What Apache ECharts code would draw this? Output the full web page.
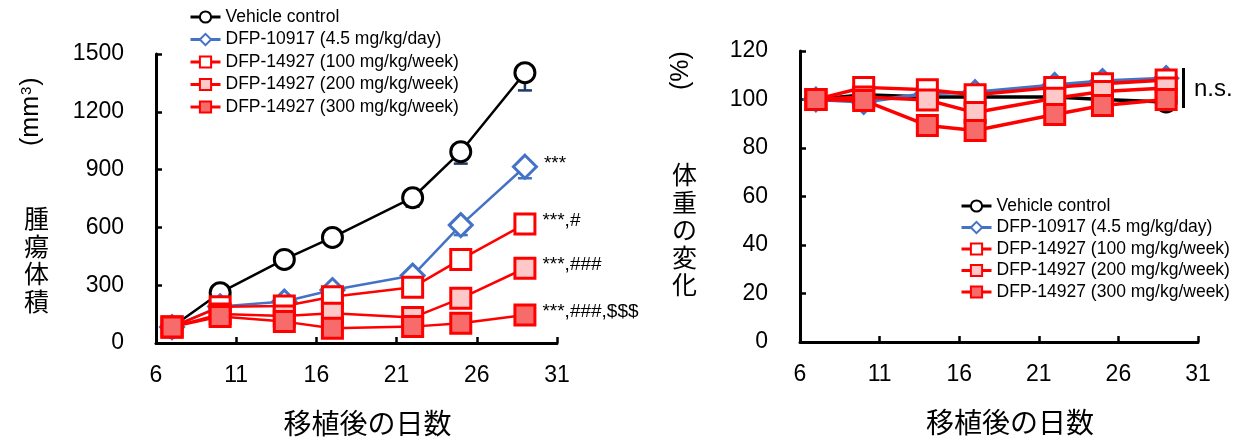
<!DOCTYPE html>
<html>
<head>
<meta charset="utf-8">
<script src="https://cdn.jsdelivr.net/npm/echarts@6/dist/echarts.min.js"></script>
<style>
  html, body { margin: 0; padding: 0; background: #fff; }
  #main { width: 1250px; height: 442px; }
</style>
</head>
<body>
<div id="main"></div>
<script>
// days after transplant
var days = [7, 10, 14, 17, 22, 25, 29];
var seriesNames = [
  'Vehicle control',
  'DFP-10917 (4.5 mg/kg/day)',
  'DFP-14927 (100 mg/kg/week)',
  'DFP-14927 (200 mg/kg/week)',
  'DFP-14927 (300 mg/kg/week)'
];

// tumor volume (mm3)
var tumorVehicle = [83, 261, 434, 548, 754, 993, 1403];
var tumorDfp10917 = [83, 190, 215, 275, 350, 612, 915];
var tumor100 = [83, 188, 192, 240, 289, 434, 617];
var tumor200 = [83, 150, 140, 154, 132, 232, 388];
var tumor300 = [83, 137, 111, 76, 85, 102, 145];
// lower error bars
var errVehicle = [8, 20, 30, 35, 47, 62, 92];
var errDfp10917 = [8, 15, 20, 25, 30, 52, 60];
// significance marks at the last point
var tumorMarks = ['', '***', '***,#', '***,###', '***,###,$$$'];

// body weight change (%)
var weightVehicle = [100, 102, 101, 101, 101, 100, 99];
var weightDfp10917 = [100, 99, 102.5, 103, 106, 107.6, 108.8];
var weight100 = [100, 105, 104, 102, 105, 106.5, 108];
var weight200 = [100, 101, 99.8, 94.6, 100.5, 103.3, 104.7];
var weight300 = [100, 99.6, 89.3, 87.2, 93.8, 97.5, 100];

var xTicks = { min: 6, max: 31, interval: 5 };

var styles = [
  { symbol: 'circle', line: '#000000', border: '#000000', fill: '#ffffff' },
  { symbol: 'diamond', line: '#4472C4', border: '#4472C4', fill: '#ffffff' },
  { symbol: 'rect', line: '#FF0000', border: '#FF0000', fill: '#ffffff' },
  { symbol: 'rect', line: '#FF0000', border: '#FF0000', fill: '#FFC8C8' },
  { symbol: 'rect', line: '#FF0000', border: '#FF0000', fill: '#F76B6B' }
];

var chart = echarts.init(document.getElementById('main'));

var FONT = '"Liberation Sans", Arial, sans-serif';
var JP = '"Noto Sans CJK JP", sans-serif';

function pairs(vals, marks) {
  return vals.map(function (v, i) {
    var item = { value: [days[i], v] };
    if (marks && i === vals.length - 1) {
      item.label = {
        show: true, formatter: marks, position: 'right', distance: 6,
        offset: [0, -3],
        color: '#000', fontSize: 19, fontFamily: FONT
      };
    }
    return item;
  });
}

function lineSeries(idx, vals, gridIdx, big, mark) {
  var s = styles[idx];
  var size = s.symbol === 'diamond' ? 23 : 20;
  return {
    name: seriesNames[idx],
    type: 'line',
    xAxisIndex: gridIdx,
    yAxisIndex: gridIdx,
    symbol: s.symbol,
    symbolSize: size,
    showAllSymbol: true,
    z: 3 + idx,
    lineStyle: { color: s.line, width: big ? 2.5 : 3.5 },
    itemStyle: { color: s.fill, borderColor: s.border, borderWidth: 3, opacity: 1 },
    label: { show: false },
    emphasis: { disabled: true },
    data: pairs(vals, mark)
  };
}

function errSeries(vals, errs, color) {
  return {
    type: 'custom',
    xAxisIndex: 0,
    yAxisIndex: 0,
    z: 2,
    silent: true,
    data: vals.map(function (v, i) { return [days[i], v, v - errs[i]]; }),
    renderItem: function (params, api) {
      var top = api.coord([api.value(0), api.value(1)]);
      var bot = api.coord([api.value(0), api.value(2)]);
      var st = { stroke: color, lineWidth: 2.5 };
      return {
        type: 'group',
        children: [
          { type: 'line', shape: { x1: top[0], y1: top[1], x2: bot[0], y2: bot[1] }, style: st },
          { type: 'line', shape: { x1: bot[0] - 7, y1: bot[1], x2: bot[0] + 7, y2: bot[1] }, style: st }
        ]
      };
    }
  };
}

function xAxisFor(gridIdx) {
  return {
    type: 'value', gridIndex: gridIdx,
    min: xTicks.min, max: xTicks.max, interval: xTicks.interval,
    name: '移植後の日数', nameLocation: 'middle', nameGap: 66,
    nameTextStyle: { fontFamily: JP, fontSize: 28, color: '#000', padding: [0, 0, 0, 22] },
    axisLine: { lineStyle: { color: '#000', width: 3 } },
    axisTick: { inside: true, length: 6, lineStyle: { color: '#000', width: 2.5 } },
    axisLabel: { color: '#000', fontSize: 23, fontFamily: FONT, margin: 21 },
    splitLine: { show: false }
  };
}

function yAxisFor(gridIdx, max, interval) {
  return {
    type: 'value', gridIndex: gridIdx,
    min: 0, max: max, interval: interval,
    axisLine: { show: true, lineStyle: { color: '#000', width: 3 } },
    axisTick: { show: true, inside: true, length: 6, lineStyle: { color: '#000', width: 2.5 } },
    axisLabel: {
      color: '#000', fontSize: 23, fontFamily: FONT, margin: 32,
      formatter: function (v) { return String(v); }
    },
    splitLine: { show: false }
  };
}

var legendBase = {
  orient: 'vertical',
  data: seriesNames,
  itemWidth: 30,
  itemHeight: 14,
  selectedMode: false,
  itemStyle: { borderWidth: 2 },
  lineStyle: { width: 3 }
};

var option = {
  backgroundColor: '#ffffff',
  animation: false,
  grid: [
    { left: 156, right: 693, top: 54, bottom: 99 },
    { left: 800, right: 52, top: 51, bottom: 100 }
  ],
  xAxis: [xAxisFor(0), xAxisFor(1)],
  yAxis: [yAxisFor(0, 1500, 300), yAxisFor(1, 120, 20)],
  legend: [
    Object.assign({}, legendBase, {
      left: 184, top: 3, itemGap: 4.5,
      textStyle: { color: '#000', fontFamily: FONT, fontSize: 17.5 }
    }),
    Object.assign({}, legendBase, {
      left: 955, top: 192, itemGap: 3.5, itemWidth: 30,
      textStyle: { color: '#000', fontFamily: FONT, fontSize: 17.5 }
    })
  ],
  graphic: [
    { type: 'text', rotation: Math.PI / 2, x: 19, y: 146,
      style: {
        text: '(mm{s|3})', font: '25px ' + FONT, fill: '#000',
        rich: { s: { fontSize: 15, fontFamily: FONT, verticalAlign: 'top', padding: [0, 1, 10, 1] } }
      } },
    { type: 'text', x: 24, y: 205,
      style: { text: '腫\n瘍\n体\n積', font: '25px ' + JP, lineHeight: 27.5, fill: '#000' } },
    { type: 'text', rotation: Math.PI / 2, x: 669, y: 90,
      style: { text: '(%)', font: '25px ' + FONT, fill: '#000' } },
    { type: 'text', x: 672, y: 161,
      style: { text: '体\n重\nの\n変\n化', font: '25px ' + JP, lineHeight: 27.5, fill: '#000' } },
    { type: 'rect', shape: { x: 1182, y: 68, width: 3, height: 40 }, style: { fill: '#000' } },
    { type: 'text', x: 1194, y: 77, style: { text: 'n.s.', font: '24px ' + FONT, fill: '#000' } }
  ],
  series: [
    errSeries(tumorVehicle, errVehicle, '#1F3864'),
    errSeries(tumorDfp10917, errDfp10917, '#4472C4'),
    lineSeries(0, tumorVehicle, 0, true, tumorMarks[0]),
    lineSeries(1, tumorDfp10917, 0, true, tumorMarks[1]),
    lineSeries(2, tumor100, 0, true, tumorMarks[2]),
    lineSeries(3, tumor200, 0, true, tumorMarks[3]),
    lineSeries(4, tumor300, 0, true, tumorMarks[4]),
    lineSeries(0, weightVehicle, 1, false),
    lineSeries(1, weightDfp10917, 1, false),
    lineSeries(2, weight100, 1, false),
    lineSeries(3, weight200, 1, false),
    lineSeries(4, weight300, 1, false)
  ]
};

chart.setOption(option);
</script>
</body>
</html>
